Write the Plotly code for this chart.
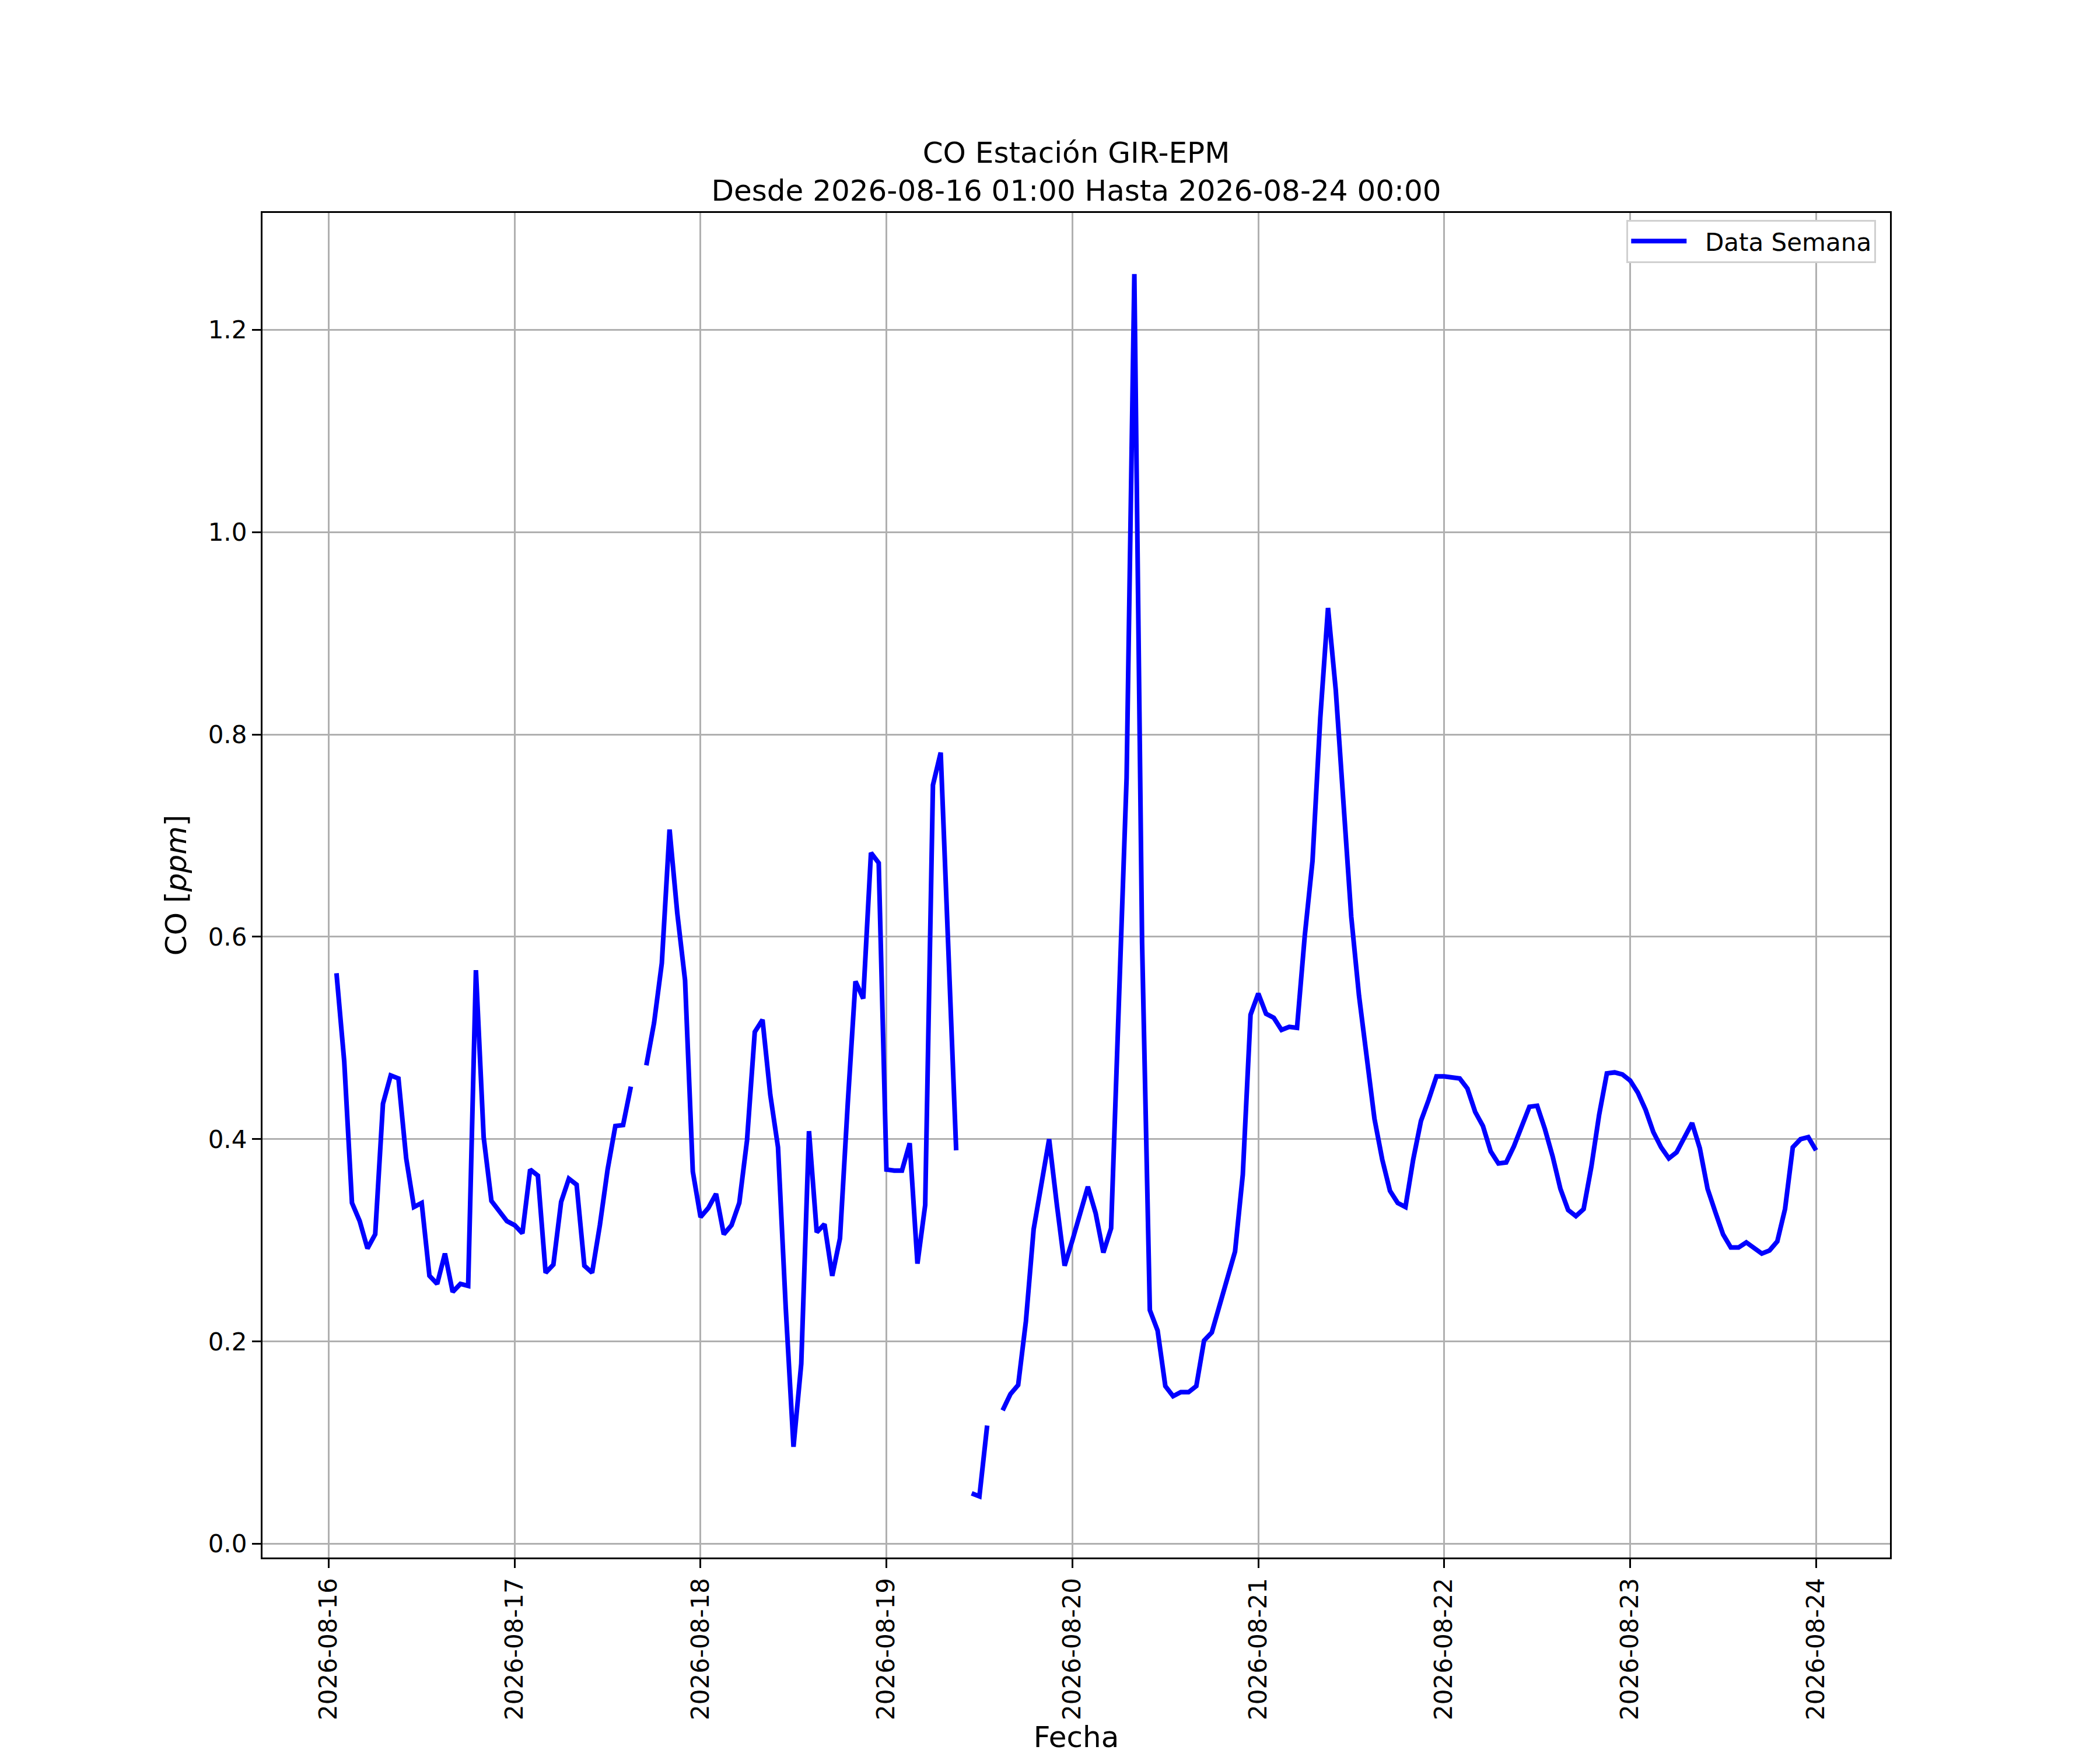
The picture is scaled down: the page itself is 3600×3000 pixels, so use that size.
import pandas as pd
import plotly.graph_objects as go

# CO hourly values (ppm); None = missing hour
dia_16 = [0.564, 0.477, 0.337, 0.319, 0.292, 0.306, 0.435, 0.463, 0.460, 0.381, 0.333, 0.337,
          0.265, 0.257, 0.287, 0.249, 0.257, 0.255, 0.567, 0.402, 0.339, 0.329, 0.319]  # 01..23
dia_17 = [0.315, 0.307, 0.370, 0.364, 0.268, 0.276, 0.338, 0.361, 0.355, 0.275, 0.268, 0.315,
          0.370, 0.413, 0.414, 0.452, None, 0.473, 0.515, 0.574, 0.706, 0.623, 0.557, 0.368]
dia_18 = [0.323, 0.332, 0.346, 0.306, 0.315, 0.337, 0.399, 0.506, 0.518, 0.444, 0.392, 0.233,
          0.096, 0.178, 0.408, 0.308, 0.316, 0.265, 0.302, 0.435, 0.556, 0.539, 0.683, 0.673]
dia_19 = [0.370, 0.369, 0.369, 0.396, 0.277, 0.335, 0.750, 0.782, 0.598, 0.389, None, 0.050,
          0.047, 0.117, None, 0.132, 0.148, 0.157, 0.220, 0.311, 0.353, 0.400, 0.335, 0.275]
dia_20 = [0.300, 0.325, 0.353, 0.327, 0.288, 0.312, 0.535, 0.757, 1.255, 0.594, 0.231, 0.211,
          0.156, 0.146, 0.150, 0.150, 0.156, 0.201, 0.209, 0.236, 0.262, 0.289, 0.365, 0.523]
dia_21 = [0.544, 0.524, 0.520, 0.508, 0.511, 0.510, 0.601, 0.675, 0.816, 0.925, 0.844, 0.724,
          0.620, 0.542, 0.483, 0.420, 0.380, 0.349, 0.337, 0.333, 0.380, 0.418, 0.439, 0.462]
dia_22 = [0.462, 0.461, 0.460, 0.450, 0.427, 0.413, 0.388, 0.376, 0.377, 0.393, 0.412, 0.432,
          0.433, 0.410, 0.383, 0.351, 0.330, 0.324, 0.331, 0.373, 0.424, 0.465, 0.466, 0.464]
dia_23 = [0.458, 0.446, 0.429, 0.407, 0.392, 0.381, 0.387, 0.401, 0.416, 0.391, 0.351, 0.328,
          0.306, 0.293, 0.293, 0.298, 0.293, 0.287, 0.290, 0.299, 0.331, 0.392, 0.400, 0.402]
dia_24 = [0.389]  # 00:00

inicio = "2026-08-16 01:00"
fin = "2026-08-24 00:00"
y_ticks = [0.0, 0.2, 0.4, 0.6, 0.8, 1.0, 1.2]

co = dia_16 + dia_17 + dia_18 + dia_19 + dia_20 + dia_21 + dia_22 + dia_23 + dia_24
fechas = pd.date_range(inicio, periods=len(co), freq="h")

# matplotlib-like 5% autoscale margins
t0, t1 = fechas[0], fechas[-1]
dx = (t1 - t0) * 0.05
vals = [v for v in co if v is not None]
dy = (max(vals) - min(vals)) * 0.05

FONT = "DejaVu Sans"

fig = go.Figure()
fig.add_trace(go.Scatter(
    x=fechas, y=co, mode="lines", name="\u00a0\u00a0Data Semana",
    line=dict(color="blue", width=8), connectgaps=False,
))

# left margin 8px less to offset the page's default body margin
fig.update_layout(
    width=3600, height=3000, autosize=False,
    margin=dict(l=442, r=368, t=357, b=333),
    paper_bgcolor="white", plot_bgcolor="white",
    font=dict(family=FONT, size=42, color="black"),
    title=dict(
        text="CO Estación GIR-EPM<br>Desde " + inicio + " Hasta " + fin,
        x=0.5, xref="paper", xanchor="center",
        y=1, yref="paper", yanchor="bottom", pad=dict(b=86),
        font=dict(family=FONT, size=50),
    ),
    showlegend=True,
    legend=dict(
        x=0.9915, y=0.995, xanchor="right", yanchor="top",
        bgcolor="white", bordercolor="#d0d0d0", borderwidth=3,
        font=dict(family=FONT, size=42), itemwidth=95,
    ),
)

fig.update_xaxes(
    range=[t0 - dx, t1 + dx],
    dtick=86400000, tick0="2026-08-16", tickformat="%Y-%m-%d", tickangle=-90,
    ticks="outside", ticklen=15, tickwidth=3.3, tickcolor="black",
    showgrid=True, gridcolor="#b0b0b0", gridwidth=3.3, zeroline=False,
    showline=True, mirror=True, linecolor="black", linewidth=3.3,
    tickfont=dict(family=FONT, size=42),
    title=dict(text="Fecha", font=dict(family=FONT, size=50), standoff=12),
)
fig.update_yaxes(
    range=[min(vals) - 0.0604, max(vals) + dy],
    tickvals=y_ticks, tickformat=".1f",
    ticks="outside", ticklen=15, tickwidth=3.3, tickcolor="black",
    showgrid=True, gridcolor="#b0b0b0", gridwidth=3.3, zeroline=False,
    showline=True, mirror=True, linecolor="black", linewidth=3.3,
    tickfont=dict(family=FONT, size=42),
    title=dict(text="CO [<i>ppm</i>]", font=dict(family=FONT, size=50), standoff=22),
)

fig.write_html("out.html")
